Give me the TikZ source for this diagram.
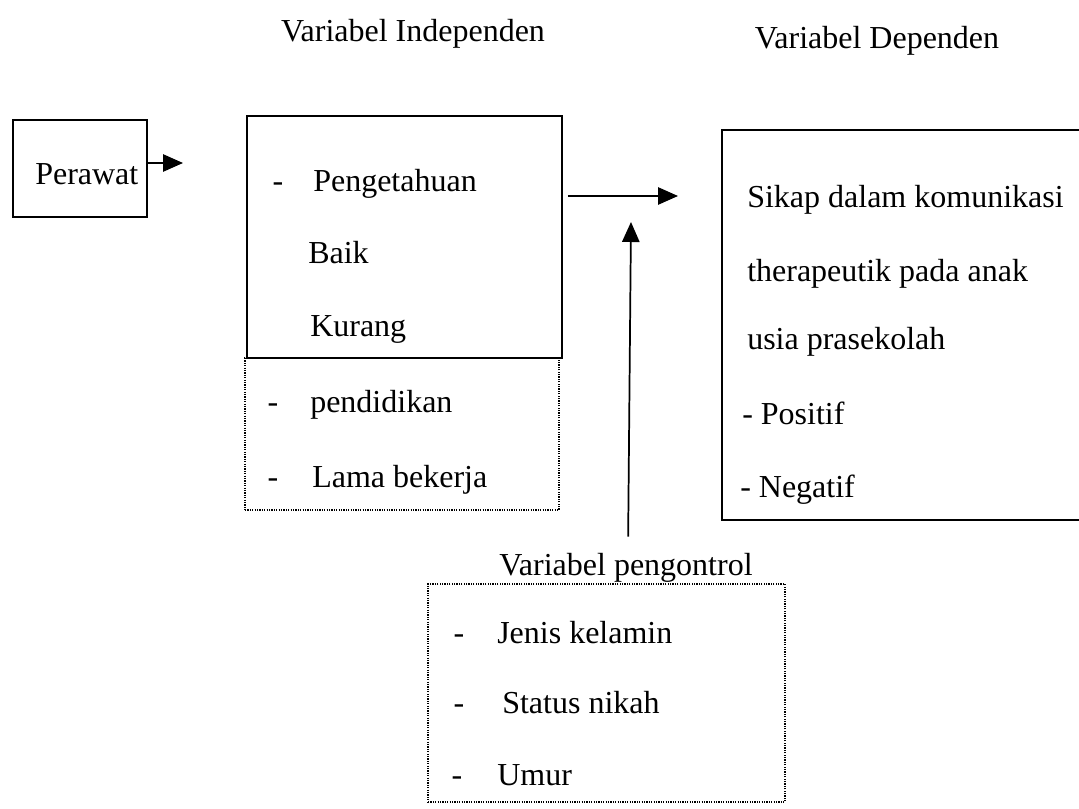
\documentclass[tikz,border=0pt]{standalone}
\usepackage{fontspec}
\setmainfont{Liberation Serif}
\usetikzlibrary{arrows.meta}
\begin{document}
\begin{tikzpicture}[x=0.75pt,y=-0.75pt,
  txt/.style={anchor=base west,inner sep=0pt,font=\fontsize{24}{28}\selectfont},
  ctxt/.style={anchor=base,inner sep=0pt,font=\fontsize{24}{28}\selectfont},
  solidbox/.style={draw,line width=1.3pt,inner sep=0pt},
  dotbox/.style={draw,line width=1pt,dash pattern=on 0.9pt off 0.9pt,inner sep=0pt},
  arr/.style={line width=1.3pt,-{Triangle[length=15pt,width=13pt]}}]
\useasboundingbox (0,0) rectangle (1079,809);
% titles
\node[ctxt] (tind) at (413,42) {Variabel Independen};
\node[ctxt] (tdep) at (877,49) {Variabel Dependen};
% Perawat
\node[solidbox,minimum width=100.5pt,minimum height=72.75pt] (perawat) at (80,168.5) {};
\node[txt] (perawatt) at (35,185) {Perawat};
% independent boxes
\node[dotbox,minimum width=235.5pt,minimum height=114pt] (indepx) at (402,434) {};
\node[solidbox,minimum width=236.25pt,minimum height=181.5pt] (indep) at (404.5,237) {};
\node[ctxt] (d1) at (278,192) {-};
\node[txt] (peng) at (313,192) {Pengetahuan};
\node[txt] (baik) at (308,264) {Baik};
\node[txt] (kur) at (310,337) {Kurang};
\node[ctxt] (d2) at (273,413) {-};
\node[txt] (pend) at (310,413) {pendidikan};
\node[ctxt] (d3) at (273,488) {-};
\node[txt] (lama) at (312,488) {Lama bekerja};
% dependent box
\node[solidbox,minimum width=276pt,minimum height=292.5pt] (dep) at (906,325) {};
\node[txt] (s1) at (747,208) {Sikap dalam komunikasi};
\node[txt] (s2) at (747,282) {therapeutik pada anak};
\node[txt] (s3) at (747,350) {usia prasekolah};
\node[txt] (s4) at (742,425) {- Positif};
\node[txt] (s5) at (740,497) {- Negatif};
% control
\node[ctxt] (ctltitle) at (626,575) {Variabel pengontrol};
\node[dotbox,minimum width=267.75pt,minimum height=163.5pt] (ctl) at (606.5,693) {};
\node[ctxt] (c1d) at (459,643) {-};
\node[txt] (c1) at (497,643) {Jenis kelamin};
\node[ctxt] (c2d) at (459,713) {-};
\node[txt] (c2) at (502,713) {Status nikah};
\node[ctxt] (c3d) at (457,785) {-};
\node[txt] (c3) at (497,785) {Umur};
% arrows
\coordinate (pa) at (183,163);
\draw[arr] (perawat.east |- pa) -- (pa);
\coordinate (ia) at (678,196);
\draw[arr] ([xshift=3.75pt]indep.east |- ia) -- (ia);
\coordinate (ve) at (631,222);
\draw[arr,shorten <=12pt] (ctltitle.north -| 628,0) -- (ve);
\end{tikzpicture}
\end{document}
